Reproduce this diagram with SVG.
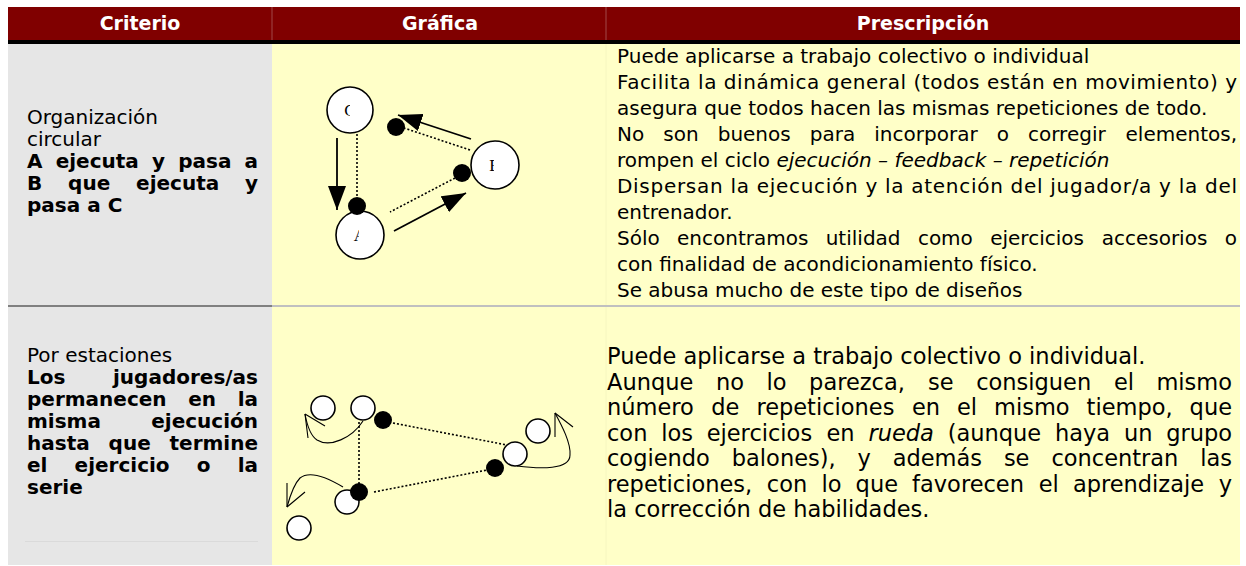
<svg xmlns="http://www.w3.org/2000/svg" width="1246" height="566" viewBox="0 0 1246 566">
<style>
.t{font-family:"DejaVu Sans","Liberation Sans",sans-serif;fill:#000}
.r1{font-size:20px}
.r2{font-size:22.5px}
.lc{font-size:20px}
.lb{font-size:20px;font-weight:bold}
.hd{font-family:"DejaVu Sans","Liberation Sans",sans-serif;font-size:19px;font-weight:bold;fill:#fff;text-anchor:middle}
.it{font-style:italic}
.pl{fill:#fff;stroke:#000;stroke-width:1.6}
.dot{fill:#000}
.dl{stroke:#000;stroke-width:1.6;stroke-dasharray:2 2;fill:none}
.ar{stroke:#000;stroke-width:1.8;fill:none}
.cv{stroke:#000;stroke-width:1.1;fill:none}
.lbl{font-family:"Liberation Serif",serif;font-size:17px;fill:#000;text-anchor:middle}
</style>
<defs>
<marker id="big" viewBox="0 0 24 18" refX="24" refY="9" markerWidth="24" markerHeight="18" markerUnits="userSpaceOnUse" orient="auto"><path d="M0,0 L24,9 L0,18 Z" fill="#000"/></marker>
<clipPath id="cC"><rect x="340" y="95" width="10" height="30"/></clipPath>
<clipPath id="cB"><rect x="486" y="150" width="8" height="30"/></clipPath>
<clipPath id="cA"><rect x="350" y="222" width="9" height="30"/></clipPath>
</defs>
<rect width="1246" height="566" fill="#fff"/>
<g id="table">
<rect x="8" y="7" width="1232" height="34" fill="#800000"/>
<line x1="272" y1="7" x2="272" y2="41" stroke="#a04848" stroke-width="1"/>
<line x1="606" y1="7" x2="606" y2="41" stroke="#a04848" stroke-width="1"/>
<rect x="8" y="40" width="1232" height="4" fill="#000"/>
<rect x="8" y="44" width="264" height="521" fill="#e6e6e6"/>
<rect x="272" y="44" width="968" height="521" fill="#ffffc8"/>
<line x1="606" y1="44" x2="606" y2="565" stroke="#f6f6c0" stroke-width="1"/>
<rect x="8" y="305" width="264" height="2" fill="#808080"/>
<rect x="272" y="305" width="968" height="2" fill="#c0c0c0"/>
<line x1="25" y1="541.5" x2="258" y2="541.5" stroke="#dadada" stroke-width="1"/>
<text class="hd" x="140" y="30">Criterio</text>
<text class="hd" x="440" y="30">Gráfica</text>
<text class="hd" x="923" y="30">Prescripción</text>
</g>
<g id="criterio1" class="t">
<text class="lc" x="27" y="124">Organización</text>
<text class="lc" x="27" y="146">circular</text>
<text class="lb" y="168"><tspan x="27">A</tspan><tspan x="55.7">ejecuta</tspan><tspan x="152">y</tspan><tspan x="178.2">pasa</tspan><tspan x="258" text-anchor="end">a</tspan></text>
<text class="lb" y="190"><tspan x="27">B</tspan><tspan x="68.1">que</tspan><tspan x="136.1">ejecuta</tspan><tspan x="258" text-anchor="end">y</tspan></text>
<text class="lb" x="27" y="212">pasa a C</text>
</g>
<g id="criterio2" class="t">
<text class="lc" x="27" y="362">Por estaciones</text>
<text class="lb" y="384"><tspan x="27">Los</tspan><tspan x="258" text-anchor="end">jugadores/as</tspan></text>
<text class="lb" y="406"><tspan x="27">permanecen</tspan><tspan x="188.2">en</tspan><tspan x="258" text-anchor="end">la</tspan></text>
<text class="lb" y="428"><tspan x="27">misma</tspan><tspan x="258" text-anchor="end">ejecución</tspan></text>
<text class="lb" y="450"><tspan x="27">hasta</tspan><tspan x="108.6">que</tspan><tspan x="258" text-anchor="end">termine</tspan></text>
<text class="lb" y="472"><tspan x="27">el</tspan><tspan x="74.6">ejercicio</tspan><tspan x="196.8">o</tspan><tspan x="258" text-anchor="end">la</tspan></text>
<text class="lb" x="27" y="494">serie</text>
</g>
<g id="prescripcion1" class="t r1">
<text x="617" y="63">Puede aplicarse a trabajo colectivo o individual</text>
<text x="617" y="89" textLength="620" lengthAdjust="spacing">Facilita la dinámica general (todos están en movimiento) y</text>
<text x="617" y="115">asegura que todos hacen las mismas repeticiones de todo.</text>
<text y="141"><tspan x="617">No</tspan><tspan x="663.3">son</tspan><tspan x="717.7">buenos</tspan><tspan x="809.8">para</tspan><tspan x="874.3">incorporar</tspan><tspan x="996.7">o</tspan><tspan x="1028">corregir</tspan><tspan x="1237" text-anchor="end">elementos,</tspan></text>
<text x="617" y="167">rompen el ciclo <tspan class="it">ejecución – feedback – repetición</tspan></text>
<text x="617" y="193" textLength="620" lengthAdjust="spacing">Dispersan la ejecución y la atención del jugador/a y la del</text>
<text x="617" y="219">entrenador.</text>
<text y="245"><tspan x="617">Sólo</tspan><tspan x="677">encontramos</tspan><tspan x="825.7">utilidad</tspan><tspan x="917.9">como</tspan><tspan x="990.2">ejercicios</tspan><tspan x="1101.7">accesorios</tspan><tspan x="1237" text-anchor="end">o</tspan></text>
<text x="617" y="271">con finalidad de acondicionamiento físico.</text>
<text x="617" y="297">Se abusa mucho de este tipo de diseños</text>
</g>
<g id="prescripcion2" class="t r2">
<text x="607" y="364">Puede aplicarse a trabajo colectivo o individual.</text>
<text y="389.5"><tspan x="607">Aunque</tspan><tspan x="715.9">no</tspan><tspan x="766.5">lo</tspan><tspan x="809.1">parezca,</tspan><tspan x="928">se</tspan><tspan x="976.2">consiguen</tspan><tspan x="1113.9">el</tspan><tspan x="1232" text-anchor="end">mismo</tspan></text>
<text y="415"><tspan x="607">número</tspan><tspan x="711.3">de</tspan><tspan x="756.4">repeticiones</tspan><tspan x="911.9">en</tspan><tspan x="957">el</tspan><tspan x="994">mismo</tspan><tspan x="1086.6">tiempo,</tspan><tspan x="1232" text-anchor="end">que</tspan></text>
<text y="440.5"><tspan x="607">con</tspan><tspan x="661.2">los</tspan><tspan x="706.7">ejercicios</tspan><tspan x="826.5">en</tspan><tspan x="868.4" class="it">rueda</tspan><tspan x="947.7">(aunque</tspan><tspan x="1055">haya</tspan><tspan x="1123.9">un</tspan><tspan x="1232" text-anchor="end">grupo</tspan></text>
<text y="466"><tspan x="607">cogiendo</tspan><tspan x="731.8">balones),</tspan><tspan x="857.5">y</tspan><tspan x="892.7">además</tspan><tspan x="1003.9">se</tspan><tspan x="1051.4">concentran</tspan><tspan x="1232" text-anchor="end">las</tspan></text>
<text y="491.5"><tspan x="607">repeticiones,</tspan><tspan x="766.8">con</tspan><tspan x="821.4">lo</tspan><tspan x="855.6">que</tspan><tspan x="912.1">favorecen</tspan><tspan x="1038.7">el</tspan><tspan x="1072.9">aprendizaje</tspan><tspan x="1232" text-anchor="end">y</tspan></text>
<text x="607" y="517">la corrección de habilidades.</text>
</g>
<g id="connectors">
<line class="dl" x1="357" y1="126" x2="357" y2="202"/>
<line class="dl" x1="470" y1="150" x2="404" y2="128"/>
<line class="dl" x1="455" y1="178" x2="390" y2="212"/>
<line class="ar" x1="337" y1="138" x2="337" y2="210" marker-end="url(#big)"/>
<line class="ar" x1="394" y1="231" x2="466" y2="193" marker-end="url(#big)"/>
<line class="ar" x1="471" y1="139" x2="398" y2="115" marker-end="url(#big)"/>
<line class="dl" x1="393" y1="423" x2="507" y2="445"/>
<line class="dl" x1="359" y1="422" x2="359" y2="485"/>
<line class="dl" x1="374" y1="492" x2="487" y2="470"/>
<path class="cv" d="M363,421 C352,438 330,448 317,440 C311,436 307,425 305,414"/>
<path class="cv" d="M305,414 L308,438 M305,414 L325,426"/>
<path class="cv" d="M343,487 C328,478 310,470 300,478 C294,484 290,496 287,507"/>
<path class="cv" d="M287,507 L287,483 M287,507 L305,492"/>
<path class="cv" d="M517,466 C540,469 570,470 570,455 C571,443 562,426 555,413"/>
<path class="cv" d="M555,413 L555,437 M555,413 L573,427"/>
</g>
<g id="nodeC"><circle class="pl" cx="350" cy="110" r="23"/><text class="lbl" x="350" y="116" clip-path="url(#cC)">C</text></g>
<g id="nodeB"><circle class="pl" cx="495" cy="165" r="24"/><text class="lbl" x="495" y="171" clip-path="url(#cB)">B</text></g>
<g id="nodeA"><circle class="pl" cx="360" cy="235" r="24"/><text class="lbl" x="360" y="241" clip-path="url(#cA)">A</text></g>
<g id="dots1"><circle class="dot" cx="396" cy="127" r="9"/><circle class="dot" cx="462" cy="173" r="9"/><circle class="dot" cx="357" cy="206" r="9"/></g>
<g id="players2">
<circle class="pl" cx="323" cy="408" r="12"/>
<circle class="pl" cx="363" cy="408" r="12"/>
<circle class="pl" cx="538" cy="431" r="12"/>
<circle class="pl" cx="515" cy="454" r="12"/>
<circle class="pl" cx="347" cy="502" r="12"/>
<circle class="pl" cx="299" cy="528" r="12"/>
</g>
<g id="dots2"><circle class="dot" cx="383" cy="420" r="9"/><circle class="dot" cx="495" cy="468" r="9"/><circle class="dot" cx="359" cy="492" r="9"/></g>
</svg>
